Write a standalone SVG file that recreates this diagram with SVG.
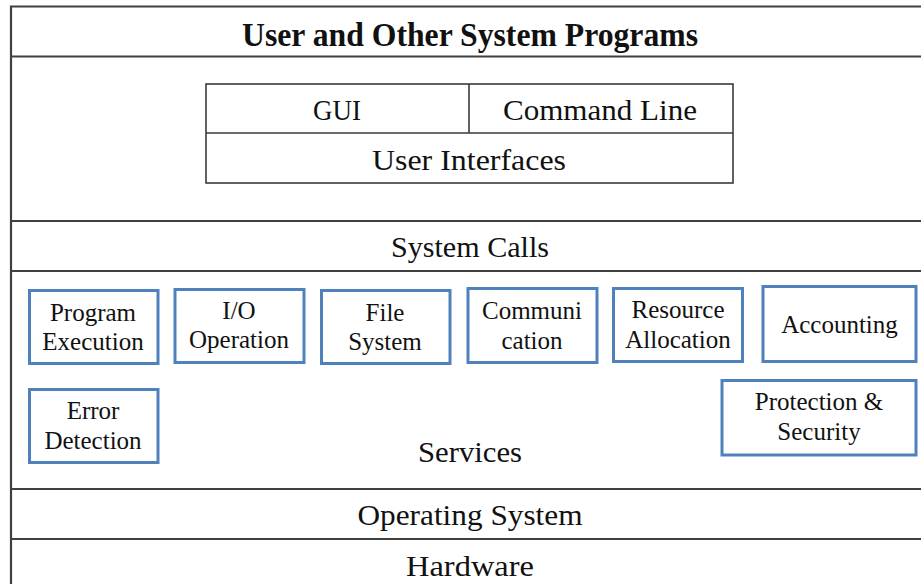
<svg xmlns="http://www.w3.org/2000/svg" width="921" height="584" viewBox="0 0 921 584">
  <style>
    .layer { stroke: #404040; stroke-width: 2.2; fill: none; }
    .ui { stroke: #3a3a3a; stroke-width: 1.6; fill: none; }
    .svc { stroke: #4f81bd; stroke-width: 3; fill: #ffffff; }
    text { font-family: "Liberation Serif", "Times New Roman", serif; fill: #111111; text-anchor: middle; }
    .title { font-size: 34px; font-weight: bold; }
    .big { font-size: 30px; }
    .lbl { font-size: 25px; }
  </style>
  <rect width="921" height="584" fill="#ffffff"/>

  <!-- layer dividers of the stack -->
  <g id="connectors">
    <path class="layer" d="M11 584 V6.5 H921"/>
    <line class="layer" x1="11" y1="56.5" x2="921" y2="56.5"/>
    <line class="layer" x1="11" y1="221" x2="921" y2="221"/>
    <line class="layer" x1="11" y1="271" x2="921" y2="271"/>
    <line class="layer" x1="11" y1="489" x2="921" y2="489"/>
    <line class="layer" x1="11" y1="539" x2="921" y2="539"/>
  </g>

  <g id="user-programs">
    <text class="title" x="470" y="46" textLength="456" lengthAdjust="spacingAndGlyphs">User and Other System Programs</text>
  </g>

  <g id="user-interfaces">
    <rect class="ui" x="206" y="84" width="527" height="99"/>
    <line class="ui" x1="206" y1="133" x2="733" y2="133"/>
    <line class="ui" x1="469" y1="84" x2="469" y2="133"/>
    <text class="big" x="337" y="120" textLength="48" lengthAdjust="spacingAndGlyphs">GUI</text>
    <text class="big" x="600" y="120" textLength="194" lengthAdjust="spacingAndGlyphs">Command Line</text>
    <text class="big" x="469" y="170" textLength="194" lengthAdjust="spacingAndGlyphs">User Interfaces</text>
  </g>

  <g id="system-calls">
    <text class="big" x="470" y="257" textLength="158" lengthAdjust="spacingAndGlyphs">System Calls</text>
  </g>

  <g id="services">
    <text class="big" x="470" y="462" textLength="104" lengthAdjust="spacingAndGlyphs">Services</text>
  </g>

  <g id="program-execution">
    <rect class="svc" x="29.5" y="290.5" width="128.5" height="73"/>
    <text class="lbl" x="93" y="321">Program</text>
    <text class="lbl" x="93" y="350">Execution</text>
  </g>

  <g id="io-operation">
    <rect class="svc" x="175" y="289.5" width="129" height="73"/>
    <text class="lbl" x="239" y="319">I/O</text>
    <text class="lbl" x="239" y="348">Operation</text>
  </g>

  <g id="file-system">
    <rect class="svc" x="321.5" y="290.5" width="128.5" height="73"/>
    <text class="lbl" x="385" y="321">File</text>
    <text class="lbl" x="385" y="350">System</text>
  </g>

  <g id="communication">
    <rect class="svc" x="468" y="288.5" width="129" height="74"/>
    <text class="lbl" x="532" y="319">Communi</text>
    <text class="lbl" x="532" y="349">cation</text>
  </g>

  <g id="resource-allocation">
    <rect class="svc" x="613.5" y="288.5" width="129" height="73"/>
    <text class="lbl" x="678" y="318">Resource</text>
    <text class="lbl" x="678" y="348">Allocation</text>
  </g>

  <g id="accounting">
    <rect class="svc" x="763" y="286.5" width="153" height="75"/>
    <text class="lbl" x="839.5" y="333">Accounting</text>
  </g>

  <g id="error-detection">
    <rect class="svc" x="29.5" y="389.5" width="128.5" height="73"/>
    <text class="lbl" x="93" y="419">Error</text>
    <text class="lbl" x="93" y="449">Detection</text>
  </g>

  <g id="protection-security">
    <rect class="svc" x="722" y="380.5" width="194" height="74.5"/>
    <text class="lbl" x="819" y="410">Protection &amp;</text>
    <text class="lbl" x="819" y="440">Security</text>
  </g>

  <g id="operating-system">
    <text class="big" x="470" y="525" textLength="225" lengthAdjust="spacingAndGlyphs">Operating System</text>
  </g>

  <g id="hardware">
    <text class="big" x="470" y="576" textLength="128" lengthAdjust="spacingAndGlyphs">Hardware</text>
  </g>
</svg>
